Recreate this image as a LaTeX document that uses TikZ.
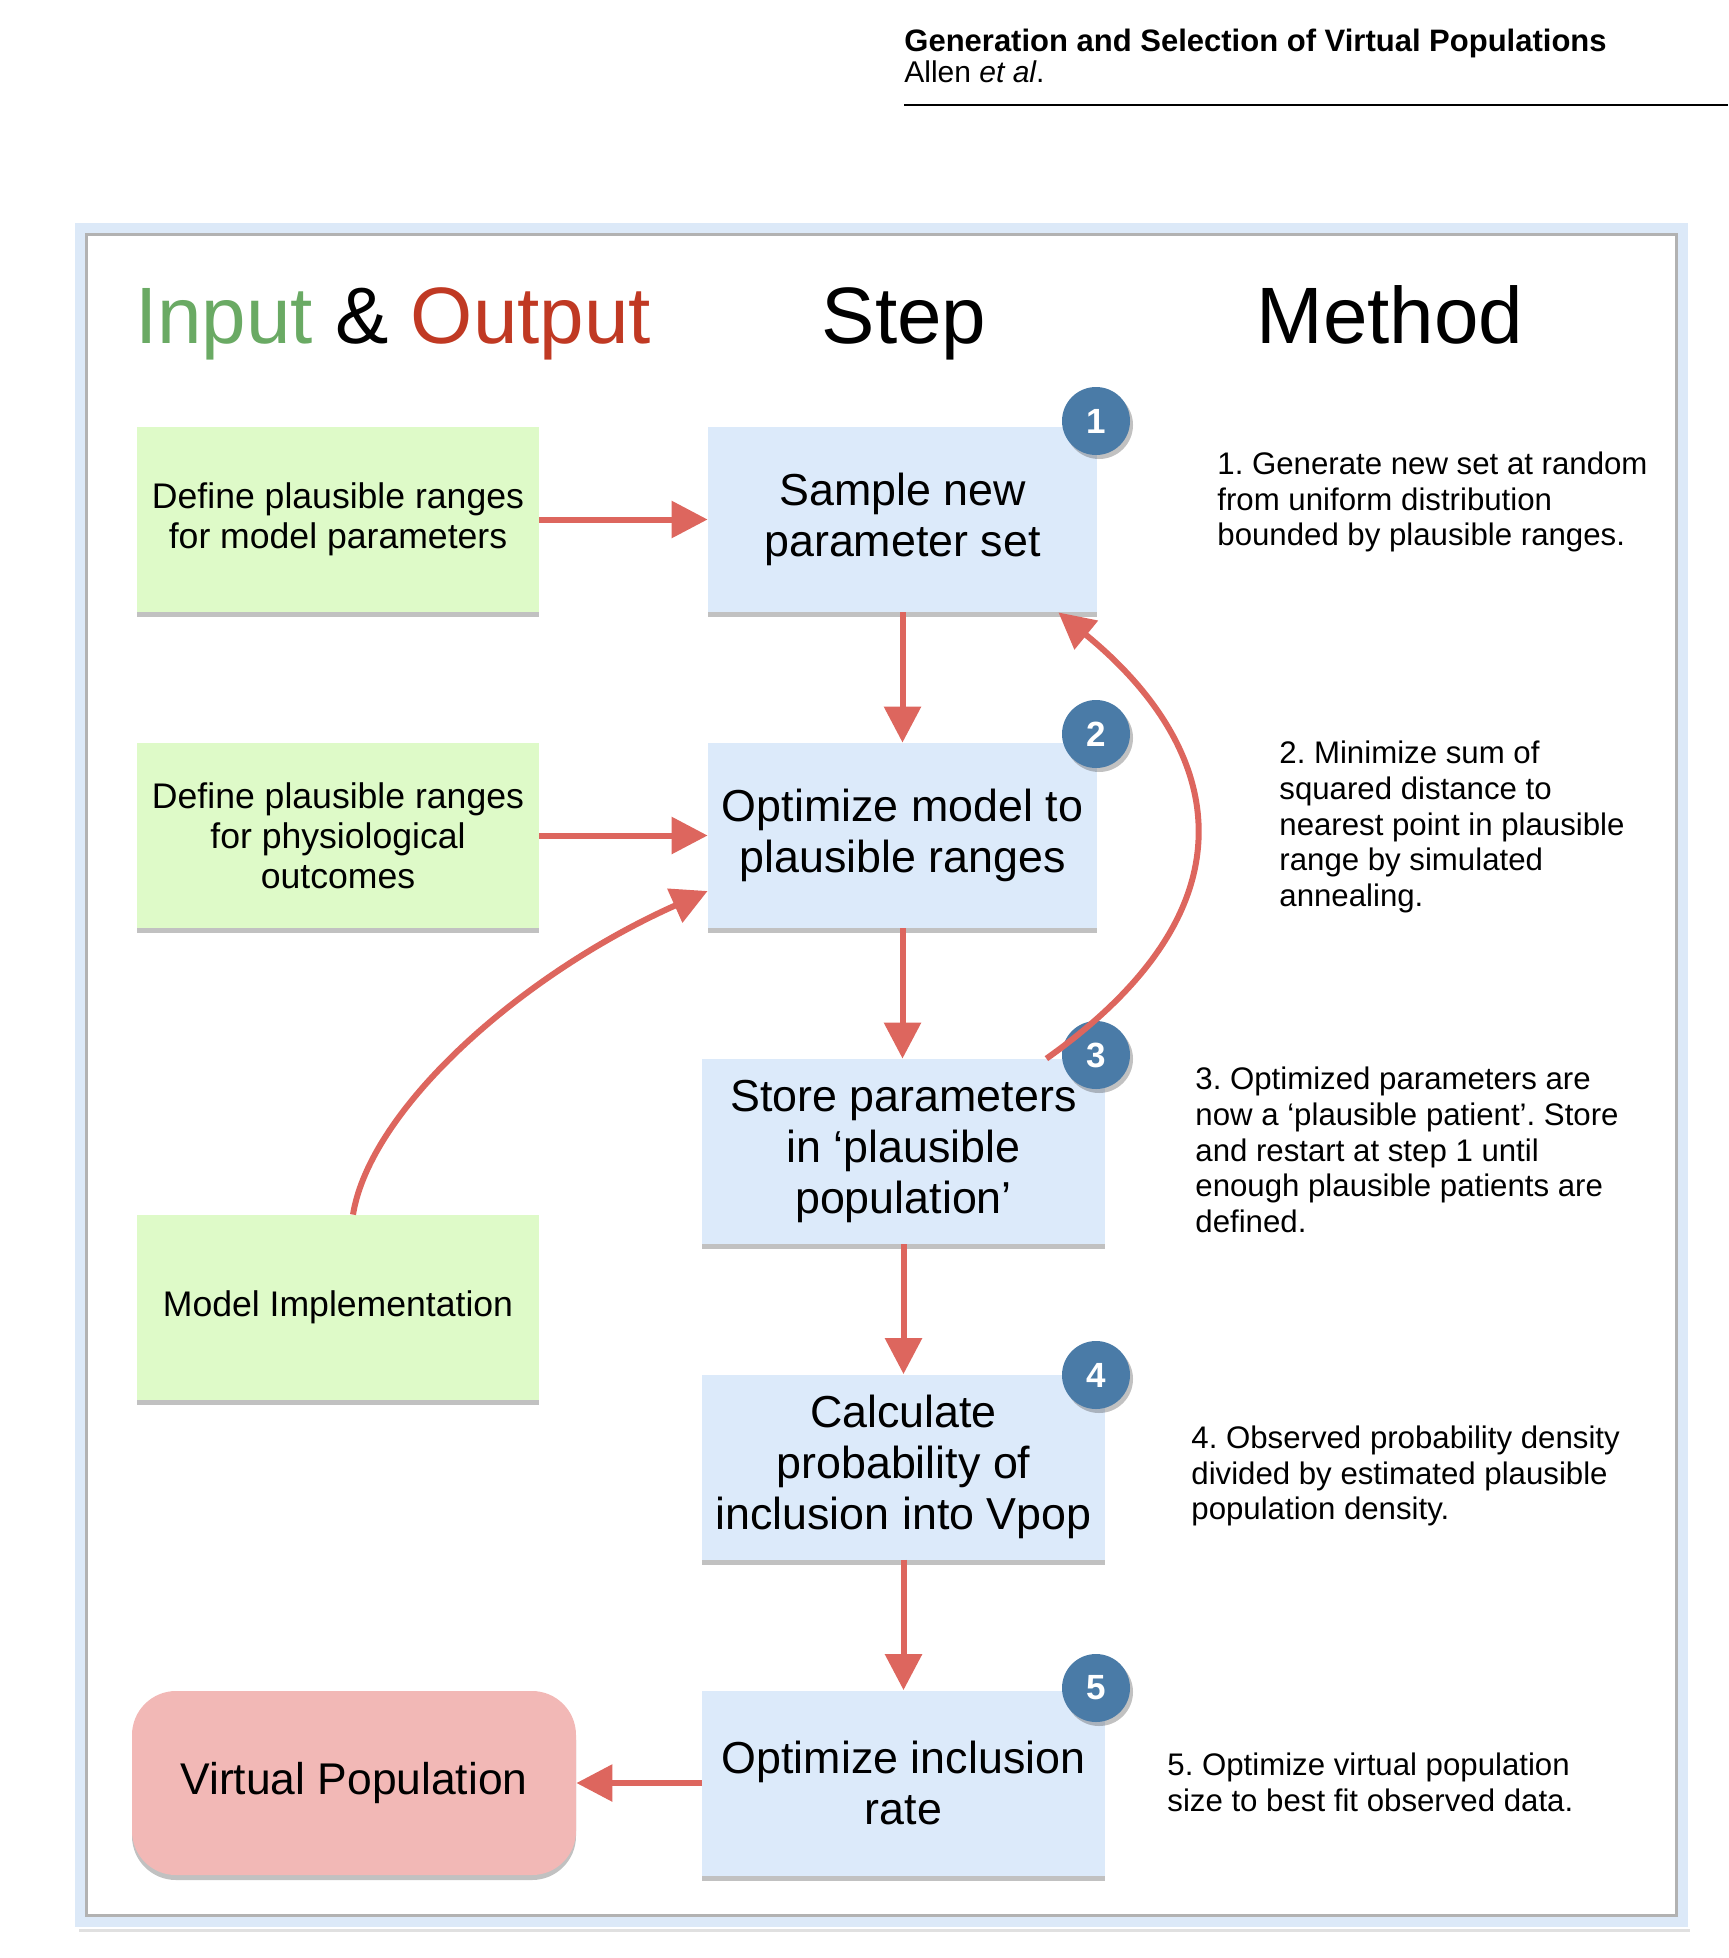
\documentclass[tikz,border=0pt]{standalone}
\usepackage{fontspec}
\setmainfont{Liberation Sans}
\usetikzlibrary{calc}
\usetikzlibrary{arrows.meta}
\usetikzlibrary{shadows}
\frenchspacing

\definecolor{ingreen}{HTML}{6AAA64}
\definecolor{outred}{HTML}{C03923}
\definecolor{boxgreen}{HTML}{DEFAC8}
\definecolor{boxblue}{HTML}{DCEAFA}
\definecolor{vpopred}{HTML}{F2B8B6}
\definecolor{badgeblue}{HTML}{4A7BA7}
\definecolor{flowred}{HTML}{DD665E}
\definecolor{frameblue}{HTML}{DCE9F8}

\tikzset{
  boxshadow/.style={drop shadow={shadow xshift=0pt, shadow yshift=-2.5pt, opacity=.35, fill=black!70}},
  inbox/.style={fill=boxgreen, minimum width=201pt, minimum height=92.5pt, inner sep=0pt, align=center,
    font=\fontsize{17.8}{20}\selectfont, boxshadow},
  stepbox/.style={fill=boxblue, minimum height=92.5pt, inner sep=0pt, align=center,
    font=\fontsize{22.4}{25.6}\selectfont, boxshadow},
  badge/.style={circle, fill=badgeblue, minimum size=34pt, inner sep=0pt, text=white,
    font=\fontsize{17.5}{17.5}\selectfont\bfseries,
    drop shadow={shadow xshift=1.5pt, shadow yshift=-2pt, opacity=.35, fill=black!70}},
  flow/.style={draw=flowred, line width=3pt, -{Triangle[length=18pt,width=18pt]}},
  method/.style={anchor=west, align=left, inner sep=0pt, font=\fontsize{15.6}{17.9}\selectfont},
  heading/.style={anchor=base, inner sep=0pt, font=\fontsize{40}{48}\selectfont},
}

\begin{document}
\begin{tikzpicture}[x=0.5pt,y=0.5pt,yscale=-1,xscale=1]
\useasboundingbox (0,0) rectangle (1728,1958);

% Page header
\node[anchor=base west, inner sep=0pt, font=\fontsize{15.5}{18}\selectfont\bfseries] (title) at (904,52) {Generation and Selection of Virtual Populations};
\node[anchor=base west, inner sep=0pt, font=\fontsize{15}{18}\selectfont] (authors) at (904,83) {Allen \textit{et al}.};
\draw[line width=1pt] (904,105) -- (1728,105);

% Frame
\draw[black!30, line width=1.5pt] (86.5,234.5) rectangle (1676.5,1915.5);
\draw[black!12, line width=1.5pt] (79,1930) -- (1690,1930);
\draw[frameblue, line width=5pt] (80,228) rectangle (1683,1922);

% Column headings
\node[heading] (hio) at (393,343) {\textcolor{ingreen}{Input} \& \textcolor{outred}{Output}};
\node[heading] (hstep) at (904,343) {Step};
\node[heading] (hmethod) at (1390,343) {Method};

% Input boxes
\node[inbox] (pranges) at (338,519.5) {Define plausible ranges\\for model parameters};
\node[inbox] (oranges) at (338,835.5) {Define plausible ranges\\for physiological\\outcomes};
\node[inbox] (model) at (338,1307.5) {Model Implementation};

% Step boxes
\node[stepbox, minimum width=194.5pt] (sample) at (902.5,519.5) {Sample new\\parameter set};
\node[stepbox, minimum width=194.5pt] (optim) at (902.5,835.5) {Optimize model to\\plausible ranges};
\node[stepbox, minimum width=201.5pt] (store) at (903.5,1151.5) {Store parameters\\in `plausible\\population'};
\node[stepbox, minimum width=201.5pt] (calc) at (903.5,1467) {Calculate\\probability of\\inclusion into Vpop};
\node[stepbox, minimum width=201.5pt] (incl) at (903.5,1783) {Optimize inclusion\\rate};

% Output box
\node[fill=vpopred, rounded corners=22pt, minimum width=222pt, minimum height=92pt, inner sep=0pt,
  font=\fontsize{22.2}{25.6}\selectfont, boxshadow] (vpop) at (354,1783) {Virtual Population};

% Step numbers
\node[badge] (n1) at (1096,421) {1};
\node[badge] (n2) at (1096,734) {2};
\node[badge] (n3) at (1096,1055) {3};
\node[badge] (n4) at (1096,1375) {4};
\node[badge] (n5) at (1096,1688) {5};

% Method texts
\node[method] (m1) at (1217,502) {1. Generate new set at random\\from uniform distribution\\bounded by plausible ranges.};
\node[method] (m2) at (1279,827) {2. Minimize sum of\\squared distance to\\nearest point in plausible\\range by simulated\\annealing.};
\node[method] (m3) at (1195,1150) {3. Optimized parameters are\\now a `plausible patient'. Store\\and restart at step 1 until\\enough plausible patients are\\defined.};
\node[method] (m4) at (1191,1476) {4. Observed probability density\\divided by estimated plausible\\population density.};
\node[method] (m5) at (1167,1782) {5. Optimize virtual population\\size to best fit observed data.};

% Arrows
\draw[flow] (pranges) -- (sample);
\draw[flow] (oranges) -- (optim);
\draw[flow] (sample) -- (optim);
\draw[flow] (optim.south) -- (optim.south |- store.north);
\draw[flow] (store.south) -- (calc.north);
\draw[flow] (calc.south) -- (incl.north);
\draw[flow] (incl) -- (vpop);
\draw[flow] ($(model.north)+(15,0)$) .. controls +(17,-105) and +(-188,84) .. ($(optim.west)+(0,55.5)$);
\draw[flow] ($(store.north east)+(-59,0)$) .. controls +(224,-159) and +(157,128) .. ($(sample.south east)+(-39,0)$);

\end{tikzpicture}
\end{document}
